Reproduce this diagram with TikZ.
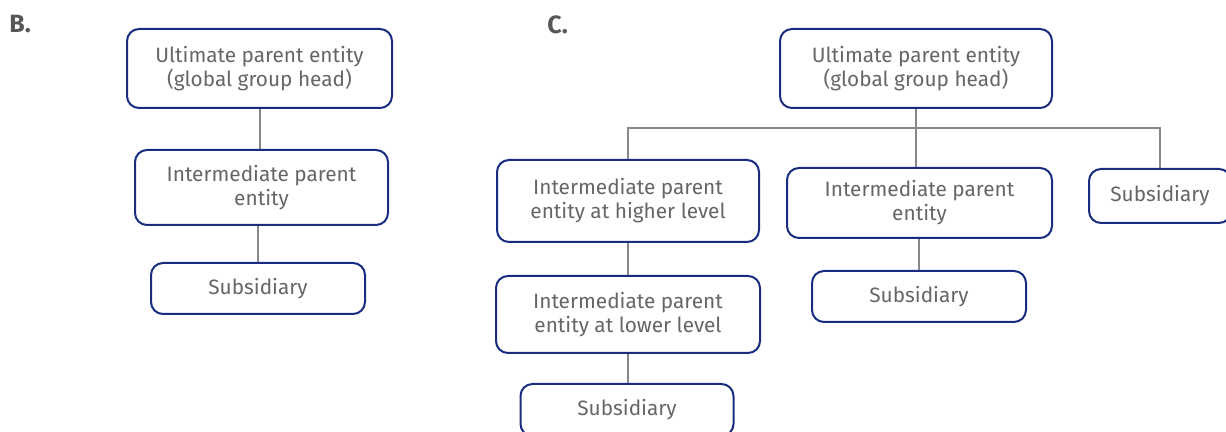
\documentclass[tikz,border=0pt]{standalone}
\usepackage{fontspec}
\setmainfont{Fira Sans}
\definecolor{boxblue}{RGB}{25,45,128}
\definecolor{txtgray}{RGB}{102,102,102}
\definecolor{linegray}{RGB}{135,135,135}
\tikzset{
  entity/.style={draw=boxblue, line width=1pt, rounded corners=6pt, fill=white,
    text=txtgray, align=center, inner sep=0pt, font=\fontsize{10.4}{12}\selectfont},
  boxdim/.style 2 args={minimum width=#1*0.5pt, minimum height=#2*0.5pt},
  link/.style={draw=linegray, line width=1pt},
  panel/.style={anchor=north west, text=txtgray!85!black, inner sep=0pt,
    font=\fontsize{12.5}{14}\selectfont\bfseries}
}
\begin{document}
\begin{tikzpicture}[x=0.5pt, y=-0.5pt]
    \useasboundingbox (0,0) rectangle (1226,432);
    \clip (0,0) rectangle (1226,432);
    % panel B
    \node[panel] (labB) at (9,15) {B.};
    \node[entity, boxdim={265}{79}] (ultB) at (259.5,68.5) {Ultimate parent entity\\(global group head)};
    \node[entity, boxdim={253}{75}] (intB) at (261.5,187.5) {Intermediate parent\\entity};
    \node[entity, boxdim={214}{51}] (subB) at (258,288.5) {Subsidiary};
    \draw[link] (ultB.south) -- (ultB.south |- intB.north);
    \draw[link] (subB.north) -- (subB.north |- intB.south);
    % panel C
    \node[panel] (labC) at (547,15) {C.};
    \node[entity, boxdim={272}{79}] (ultC) at (916,68.5) {Ultimate parent entity\\(global group head)};
    \node[entity, boxdim={262}{82}] (hiC) at (628,201) {Intermediate parent\\entity at higher level};
    \node[entity, boxdim={265}{70}] (midC) at (919.5,203) {Intermediate parent\\entity};
    \node[entity, boxdim={142}{54}] (rsubC) at (1160,196) {Subsidiary};
    \node[entity, boxdim={264}{77}] (loC) at (628,314.5) {Intermediate parent\\entity at lower level};
    \node[entity, boxdim={213}{52}] (lsubC) at (627,410) {Subsidiary};
    \node[entity, boxdim={214}{51}] (msubC) at (919,296.5) {Subsidiary};
    \draw[link] (hiC.north) -- ++(0,-31) -| (rsubC.north);
    \draw[link] (ultC.south) -- (ultC.south |- midC.north);
    \draw[link] (hiC.south) -- (hiC.south |- loC.north);
    \draw[link] (loC.south) -- (loC.south |- lsubC.north);
    \draw[link] (msubC.north) -- (msubC.north |- midC.south);
\end{tikzpicture}
\end{document}
